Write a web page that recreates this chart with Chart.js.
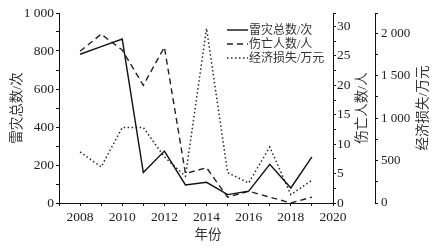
<!DOCTYPE html>
<html>
<head>
<meta charset="utf-8">
<script src="https://cdn.jsdelivr.net/npm/chart.js@4/dist/chart.umd.min.js"></script>
<style>
html,body{margin:0;padding:0;background:#fff;}
#wrap{width:439px;height:249px;position:relative;}
</style>
</head>
<body>
<div id="wrap"><canvas id="c" width="439" height="249"></canvas></div>
<script>
const years = [2008, 2009, 2010, 2011, 2012, 2013, 2014, 2015, 2016, 2017, 2018, 2019];
const lightningCount = [783, 823, 863, 160, 273, 95, 109, 44, 62, 204, 79, 243];
const casualties = [25.8, 28.7, 26, 20, 26.5, 5, 6, 1, 2, 1, 0, 1];
const economicLoss = [602, 425, 890, 890, 543, 315, 2059, 358, 236, 661, 98, 268];
const seriesLabels = ['雷灾总数/次', '伤亡人数/人', '经济损失/万元'];
const xTitle = '年份';
const leftTitle = '雷灾总数/次';
const midTitle = '伤亡人数/人';
const rightTitle = '经济损失/万元';

const pts = (arr) => years.map((y, i) => ({x: y, y: arr[i]}));
const fmt = (v) => {
  const s = String(Math.round(v));
  return s.length > 3 ? s.slice(0, s.length - 3) + ' ' + s.slice(-3) : s;
};
const serif = "'Liberation Serif', 'Times New Roman', serif";
const cjk = "'Liberation Serif', 'Noto Sans CJK SC', serif";

const titlesPlugin = {
  id: 'titles',
  afterDraw(chart) {
    const ctx = chart.ctx;
    const ca = chart.chartArea;
    const cy = (ca.top + ca.bottom) / 2;
    ctx.save();
    ctx.fillStyle = '#333';
    ctx.font = '13.5px ' + cjk;
    ctx.textAlign = 'center';
    ctx.textBaseline = 'middle';
    const vt = (txt, x) => {
      ctx.save();
      ctx.translate(x, cy);
      ctx.rotate(-Math.PI / 2);
      ctx.fillText(txt, 0, 0);
      ctx.restore();
    };
    vt(leftTitle, 17);
    vt(midTitle, 362);
    vt(rightTitle, 423);
    ctx.fillText(xTitle, 208, 235);
    // legend
    ctx.font = '12px ' + cjk;
    ctx.textAlign = 'left';
    chart.data.datasets.forEach((ds, i) => {
      const y = 30 + i * 14;
      ctx.save();
      ctx.strokeStyle = ds.borderColor;
      ctx.lineWidth = ds.borderWidth;
      ctx.setLineDash(ds.borderDash || []);
      ctx.beginPath();
      ctx.moveTo(227, y);
      ctx.lineTo(248, y);
      ctx.stroke();
      ctx.restore();
      ctx.fillStyle = '#333';
      ctx.fillText(ds.label, 249, y + 0.5);
    });
    ctx.restore();
  }
};

const axisCommon = {
  border: {display: true, color: '#111', width: 1},
  grid: {drawOnChartArea: false, drawTicks: true, tickLength: 3, color: '#111', tickColor: '#111'}
};

new Chart(document.getElementById('c'), {
  type: 'line',
  data: {
    datasets: [
      {label: seriesLabels[0], data: pts(lightningCount), yAxisID: 'y', borderColor: '#111', borderWidth: 1.4, borderDash: [], pointRadius: 0, tension: 0, fill: false},
      {label: seriesLabels[1], data: pts(casualties), yAxisID: 'y1', borderColor: '#222', borderWidth: 1.4, borderDash: [6, 4], pointRadius: 0, tension: 0, fill: false},
      {label: seriesLabels[2], data: pts(economicLoss), yAxisID: 'y2', borderColor: '#2a2a2a', borderWidth: 1.5, borderDash: [1.5, 2.5], pointRadius: 0, tension: 0, fill: false}
    ]
  },
  options: {
    responsive: false,
    animation: false,
    devicePixelRatio: 1,
    layout: {padding: {top: 13, left: 0, right: 0, bottom: 0}},
    plugins: {legend: {display: false}, tooltip: {enabled: false}},
    scales: {
      x: Object.assign({}, axisCommon, {
        type: 'linear', position: 'bottom', min: 2007, max: 2020,
        ticks: {stepSize: 1, autoSkip: false, maxRotation: 0, padding: 3, color: '#222',
          font: {family: serif, size: 13.5},
          callback: (v) => (v % 2 === 0 ? String(v) : '')},
        afterFit: (s) => { s.height = 46; }
      }),
      y: Object.assign({}, axisCommon, {
        type: 'linear', position: 'left', min: 0, max: 1000,
        ticks: {stepSize: 100, autoSkip: false, padding: 2, color: '#222', font: {family: serif, size: 13.5},
          callback: (v) => (v % 200 === 0 ? fmt(v) : '')},
        afterFit: (s) => { s.width = 59; }
      }),
      y1: Object.assign({}, axisCommon, {
        type: 'linear', position: 'right', weight: 0, bounds: 'data',
        afterDataLimits: (s) => { s.min = 0; s.max = 32.3; },
        ticks: {stepSize: 2.5, autoSkip: false, padding: 1, color: '#222', font: {family: serif, size: 13.5},
          callback: (v) => (Math.abs(v % 5) < 1e-6 ? String(v) : '')},
        afterFit: (s) => { s.width = 42; }
      }),
      y2: Object.assign({}, axisCommon, {
        type: 'linear', position: 'right', weight: 1, bounds: 'data',
        afterDataLimits: (s) => { s.min = 0; s.max = 2240; },
        ticks: {stepSize: 250, autoSkip: false, padding: 3, color: '#222', font: {family: serif, size: 13},
          callback: (v) => (Math.abs(v % 500) < 1e-6 ? fmt(v) : '')},
        afterFit: (s) => { s.width = 64; }
      })
    }
  },
  plugins: [titlesPlugin]
});
</script>
</body>
</html>
